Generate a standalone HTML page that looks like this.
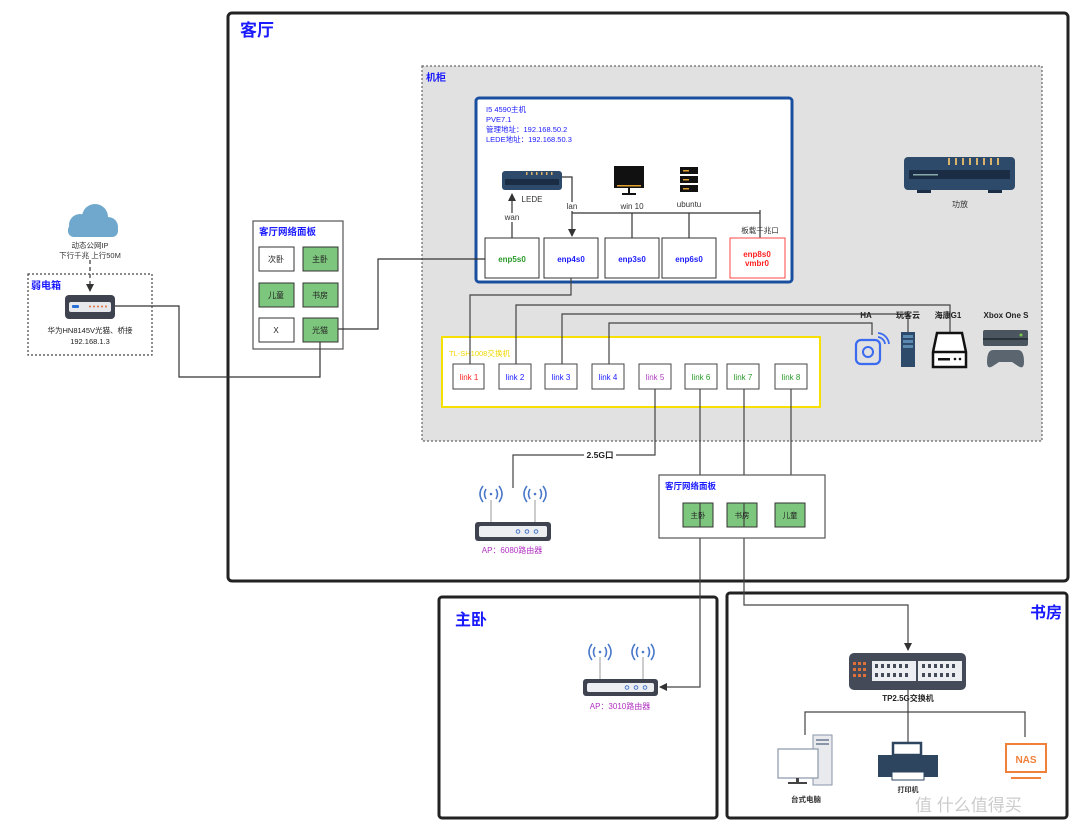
<!DOCTYPE html>
<html><head><meta charset="utf-8"><style>
html,body{margin:0;padding:0;background:#fff;}
svg{display:block;font-family:"Liberation Sans","Noto Sans CJK SC",sans-serif;}
</style></head><body>
<svg width="1080" height="833" viewBox="0 0 1080 833" xmlns="http://www.w3.org/2000/svg">
<defs>
<marker id="ar" markerWidth="8" markerHeight="8" refX="7" refY="4" orient="auto" markerUnits="userSpaceOnUse"><path d="M0,0 L8,4 L0,8 z" fill="#333"/></marker>
</defs>
<!-- outer rooms -->
<rect x="228" y="13" width="840" height="568" rx="4" fill="#fff" stroke="#222" stroke-width="3"/>
<rect x="439" y="597" width="278" height="221" rx="3" fill="#fff" stroke="#222" stroke-width="3"/>
<rect x="727" y="593" width="340" height="225" rx="3" fill="#fff" stroke="#222" stroke-width="3"/>
<text x="240" y="36" font-size="17" font-weight="bold" fill="#1a1aff">客厅</text>
<text x="455" y="625" font-size="16" font-weight="bold" fill="#1a1aff">主卧</text>
<text x="1030" y="618" font-size="16" font-weight="bold" fill="#1a1aff">书房</text>

<!-- cabinet -->
<rect x="422" y="66" width="620" height="375" fill="#e1e1e1" stroke="#666" stroke-width="1.2" stroke-dasharray="2,2"/>
<text x="426" y="81" font-size="10" font-weight="bold" fill="#1a1aff">机柜</text>

<!-- host -->
<rect x="476" y="98" width="316" height="184" rx="3" fill="#fff" stroke="#1a4fa0" stroke-width="3"/>
<g font-size="7.5" fill="#1a1aff">
<text x="486" y="112">I5 4590主机</text>
<text x="486" y="122">PVE7.1</text>
<text x="486" y="132">管理地址：192.168.50.2</text>
<text x="486" y="142">LEDE地址：192.168.50.3</text>
</g>
<!-- LEDE icon -->
<rect x="502" y="171" width="60" height="19" rx="3" fill="#2e4a6b"/>
<rect x="505" y="179" width="54" height="6" fill="#1a2d44"/>
<g fill="#d9b36a"><rect x="526" y="172" width="1.5" height="3"/><rect x="531" y="172" width="1.5" height="3"/><rect x="536" y="172" width="1.5" height="3"/><rect x="541" y="172" width="1.5" height="3"/><rect x="546" y="172" width="1.5" height="3"/><rect x="551" y="172" width="1.5" height="3"/></g>
<text x="532" y="202" font-size="8" fill="#333" text-anchor="middle">LEDE</text>
<line x1="512" y1="238" x2="512" y2="194" stroke="#333" stroke-width="1.2" marker-end="url(#ar)"/>
<rect x="503" y="213" width="18" height="9" fill="#fff"/>
<text x="512" y="220" font-size="8" fill="#333" text-anchor="middle">wan</text>
<polyline points="562,177 572,177 572,236" fill="none" stroke="#333" stroke-width="1.2" marker-end="url(#ar)"/>
<rect x="565" y="202" width="14" height="9" fill="#fff"/>
<text x="572" y="209" font-size="8" fill="#333" text-anchor="middle">lan</text>
<!-- win10 -->
<rect x="614" y="166" width="30" height="22" fill="#111"/>
<rect x="617" y="185" width="24" height="1.5" fill="#e0a030"/>
<rect x="628" y="188" width="2" height="5" fill="#111"/><rect x="622" y="193" width="14" height="2" fill="#111"/>
<text x="632" y="209" font-size="8" fill="#333" text-anchor="middle">win 10</text>
<!-- ubuntu -->
<rect x="680" y="167" width="18" height="7" fill="#111"/><rect x="680" y="176" width="18" height="7" fill="#111"/><rect x="680" y="185" width="18" height="7" fill="#111"/>
<rect x="683" y="170" width="6" height="1.5" fill="#e0a030"/><rect x="683" y="179" width="6" height="1.5" fill="#e0a030"/><rect x="683" y="188" width="6" height="1.5" fill="#e0a030"/>
<text x="689" y="207" font-size="8" fill="#333" text-anchor="middle">ubuntu</text>
<!-- bus -->
<polyline points="572,213 760,213" fill="none" stroke="#333" stroke-width="1.2"/>
<line x1="632" y1="213" x2="632" y2="238" stroke="#333" stroke-width="1.2"/>
<line x1="689" y1="213" x2="689" y2="238" stroke="#333" stroke-width="1.2"/>
<line x1="760" y1="210" x2="760" y2="238" stroke="#333" stroke-width="1.2"/>
<text x="760" y="233" font-size="7.5" fill="#333" text-anchor="middle">板载千兆口</text>
<!-- ports -->
<g stroke="#333" stroke-width="1" fill="#fff">
<rect x="485" y="238" width="54" height="40"/><rect x="544" y="238" width="54" height="40"/><rect x="605" y="238" width="54" height="40"/><rect x="662" y="238" width="54" height="40"/>
</g>
<rect x="730" y="238" width="55" height="40" fill="#fff" stroke="#f44" stroke-width="1"/>
<g font-size="8" text-anchor="middle" font-weight="bold">
<text x="512" y="262" fill="#2a9a2a">enp5s0</text>
<text x="571" y="262" fill="#1a1aff">enp4s0</text>
<text x="632" y="262" fill="#1a1aff">enp3s0</text>
<text x="689" y="262" fill="#1a1aff">enp6s0</text>
<text x="757" y="257" fill="#f22">enp8s0</text>
<text x="757" y="266" fill="#f22">vmbr0</text>
</g>

<!-- 功放 -->
<rect x="904" y="157" width="111" height="33" rx="4" fill="#2e4a6b"/>
<rect x="909" y="170" width="101" height="9" fill="#1a2d44"/>
<rect x="913" y="174" width="25" height="1.5" fill="#8aa"/>
<g fill="#d9b36a"><rect x="948" y="158" width="2" height="7"/><rect x="955" y="158" width="2" height="7"/><rect x="962" y="158" width="2" height="7"/><rect x="969" y="158" width="2" height="7"/><rect x="976" y="158" width="2" height="7"/><rect x="983" y="158" width="2" height="7"/><rect x="990" y="158" width="2" height="7"/><rect x="997" y="158" width="2" height="7"/></g>
<rect x="917" y="190" width="14" height="3" fill="#1a2d44"/><rect x="988" y="190" width="14" height="3" fill="#1a2d44"/>
<text x="960" y="207" font-size="8" fill="#333" text-anchor="middle">功放</text>

<!-- left panel -->
<rect x="253" y="221" width="90" height="128" fill="#fff" stroke="#555" stroke-width="1.2"/>
<text x="259" y="235" font-size="9.5" font-weight="bold" fill="#1a1aff">客厅网络面板</text>
<g stroke="#333" stroke-width="1">
<rect x="259" y="247" width="35" height="24" fill="#fff"/><rect x="303" y="247" width="35" height="24" fill="#7dc67d"/>
<rect x="259" y="283" width="35" height="24" fill="#7dc67d"/><rect x="303" y="283" width="35" height="24" fill="#7dc67d"/>
<rect x="259" y="318" width="35" height="24" fill="#fff"/><rect x="303" y="318" width="35" height="24" fill="#7dc67d"/>
</g>
<g font-size="8" text-anchor="middle" fill="#222">
<text x="276" y="262">次卧</text><text x="320" y="262">主卧</text>
<text x="276" y="298">儿童</text><text x="320" y="298">书房</text>
<text x="276" y="333">X</text><text x="320" y="333">光猫</text>
</g>
<polyline points="338,329 378,329 378,259 485,259" fill="none" stroke="#333" stroke-width="1.2"/>
<polyline points="320,342 320,377 179,377 179,306 115,306" fill="none" stroke="#333" stroke-width="1.2"/>

<!-- cloud -->
<g fill="#6fa8cc"><circle cx="80" cy="225" r="11"/><circle cx="95" cy="217" r="13"/><circle cx="108" cy="227" r="10"/><rect x="68" y="224" width="50" height="13" rx="6"/></g>
<text x="90" y="248" font-size="7.5" fill="#333" text-anchor="middle">动态公网IP</text>
<text x="90" y="258" font-size="7.5" fill="#333" text-anchor="middle">下行千兆  上行50M</text>
<line x1="90" y1="260" x2="90" y2="291" stroke="#333" stroke-width="1.2" stroke-dasharray="4,3" marker-end="url(#ar)"/>
<rect x="28" y="274" width="124" height="81" fill="none" stroke="#444" stroke-width="1.2" stroke-dasharray="2,2"/>
<text x="31" y="289" font-size="10" font-weight="bold" fill="#1a1aff">弱电箱</text>
<rect x="65" y="295" width="50" height="24" rx="4" fill="#3f4350"/>
<rect x="69" y="302" width="42" height="10" rx="2" fill="#e6e8ec"/>
<rect x="72" y="305" width="7" height="3" rx="1" fill="#2a6ed8"/>
<g fill="#e0703a"><circle cx="90" cy="306.5" r="1"/><circle cx="94" cy="306.5" r="1"/><circle cx="98" cy="306.5" r="1"/><circle cx="102" cy="306.5" r="1"/><circle cx="106" cy="306.5" r="1"/></g>
<text x="90" y="333" font-size="7.5" fill="#222" text-anchor="middle">华为HN8145V光猫、桥接</text>
<text x="90" y="344" font-size="7.5" fill="#222" text-anchor="middle">192.168.1.3</text>

<!-- TL switch -->
<rect x="442" y="337" width="378" height="70" fill="#fff" stroke="#f5e000" stroke-width="2"/>
<text x="449" y="356" font-size="7.5" fill="#f0d800">TL-SH1008交换机</text>
<g stroke="#444" stroke-width="1" fill="#fff">
<rect x="453" y="364" width="31" height="25"/><rect x="499" y="364" width="32" height="25"/><rect x="545" y="364" width="32" height="25"/><rect x="592" y="364" width="32" height="25"/><rect x="639" y="364" width="32" height="25"/><rect x="685" y="364" width="32" height="25"/><rect x="727" y="364" width="32" height="25"/><rect x="775" y="364" width="32" height="25"/>
</g>
<g font-size="8" text-anchor="middle">
<text x="469" y="380" fill="#f22">link 1</text>
<text x="515" y="380" fill="#1a1aff">link 2</text>
<text x="561" y="380" fill="#1a1aff">link 3</text>
<text x="608" y="380" fill="#1a1aff">link 4</text>
<text x="655" y="380" fill="#b040c0">link 5</text>
<text x="701" y="380" fill="#2a9a2a">link 6</text>
<text x="743" y="380" fill="#2a9a2a">link 7</text>
<text x="791" y="380" fill="#2a9a2a">link 8</text>
</g>
<g fill="none" stroke="#444" stroke-width="1.2">
<polyline points="571,278 571,295 470,295 470,364"/>
<polyline points="516,364 516,305 950,305 950,333"/>
<polyline points="562,364 562,314 908,314 908,333"/>
<polyline points="609,364 609,323 872,323 872,335"/>
<polyline points="655,389 655,455 513,455 513,488"/>
<polyline points="700,389 700,687 660,687" marker-end="url(#ar)"/>
<polyline points="744,389 744,605 908,605 908,650" marker-end="url(#ar)"/>
<polyline points="791,389 791,502"/>
</g>
<rect x="584" y="450" width="32" height="10" fill="#fff"/>
<text x="600" y="458" font-size="8.5" font-weight="bold" fill="#222" text-anchor="middle">2.5G口</text>

<!-- devices row -->
<g font-size="8" font-weight="bold" fill="#222" text-anchor="middle">
<text x="866" y="318">HA</text><text x="908" y="318">玩客云</text><text x="948" y="318">海康G1</text><text x="1006" y="318">Xbox One S</text>
</g>
<rect x="856" y="340" width="24" height="24" rx="5" fill="none" stroke="#3a6af0" stroke-width="2.2"/>
<circle cx="868" cy="352" r="5" fill="none" stroke="#3a6af0" stroke-width="2"/>
<path d="M878,337 a8,8 0 0 1 7,7 M878,333 a12,12 0 0 1 11,11" fill="none" stroke="#3a6af0" stroke-width="1.8"/>
<rect x="901" y="332" width="14" height="35" fill="#2e4a6b"/>
<rect x="903" y="335" width="10" height="3" fill="#5a8ab0"/><rect x="903" y="340" width="10" height="3" fill="#5a8ab0"/><rect x="903" y="345" width="10" height="3" fill="#5a8ab0"/>
<path d="M937,333 L962,333 L966,352 L966,367 L933,367 L933,352 Z" fill="#fff" stroke="#111" stroke-width="2.5"/>
<line x1="933" y1="352" x2="966" y2="352" stroke="#111" stroke-width="2.5"/>
<rect x="938" y="358" width="12" height="2.5" fill="#111"/><circle cx="955" cy="359" r="1.3" fill="#111"/><circle cx="960" cy="359" r="1.3" fill="#111"/>
<rect x="983" y="330" width="45" height="16" rx="2" fill="#4a5560"/>
<rect x="983" y="338" width="45" height="2" fill="#2a333a"/><circle cx="1021" cy="335" r="1.5" fill="#7c4"/>
<path d="M993,350 L1018,350 Q1024,350 1024,362 Q1024,370 1018,366 L1012,362 L999,362 L993,366 Q987,370 987,362 Q987,350 993,350 Z" fill="#5a6570"/>

<!-- AP 6080 -->
<line x1="491" y1="500" x2="491" y2="522" stroke="#bbb" stroke-width="1.5"/><line x1="535" y1="500" x2="535" y2="522" stroke="#bbb" stroke-width="1.5"/>
<g fill="none" stroke="#4a78c8" stroke-width="1.6">
<path d="M486,489 q-3,5 0,10 M483,486 q-6,8 0,16 M496,489 q3,5 0,10 M499,486 q6,8 0,16"/>
<path d="M530,489 q-3,5 0,10 M527,486 q-6,8 0,16 M540,489 q3,5 0,10 M543,486 q6,8 0,16"/>
</g>
<circle cx="491" cy="494" r="1.3" fill="#4a78c8"/><circle cx="535" cy="494" r="1.3" fill="#4a78c8"/>
<rect x="475" y="522" width="76" height="19" rx="3" fill="#3f4350"/>
<rect x="479" y="526" width="68" height="11" rx="2" fill="#eceef2"/>
<g fill="none" stroke="#4a78c8" stroke-width="1"><circle cx="518" cy="531.5" r="1.8"/><circle cx="527" cy="531.5" r="1.8"/><circle cx="536" cy="531.5" r="1.8"/></g>
<text x="512" y="553" font-size="8" fill="#b030c0" text-anchor="middle">AP：6080路由器</text>

<!-- right panel -->
<rect x="659" y="475" width="166" height="63" fill="#fff" stroke="#555" stroke-width="1.2"/>
<text x="665" y="489" font-size="8.5" font-weight="bold" fill="#1a1aff">客厅网络面板</text>
<g stroke="#333" stroke-width="1" fill="#7dc67d">
<rect x="683" y="503" width="30" height="24"/><rect x="727" y="503" width="30" height="24"/><rect x="775" y="503" width="30" height="24"/>
</g>
<line x1="700" y1="503" x2="700" y2="527" stroke="#444" stroke-width="1.2"/>
<line x1="744" y1="503" x2="744" y2="527" stroke="#444" stroke-width="1.2"/>
<g font-size="7.5" text-anchor="middle" fill="#222">
<text x="698" y="518">主卧</text><text x="742" y="518">书房</text><text x="790" y="518">儿童</text>
</g>

<!-- AP 3010 -->
<line x1="600" y1="657" x2="600" y2="680" stroke="#bbb" stroke-width="1.5"/><line x1="643" y1="657" x2="643" y2="680" stroke="#bbb" stroke-width="1.5"/>
<g fill="none" stroke="#4a78c8" stroke-width="1.6">
<path d="M595,647 q-3,5 0,10 M592,644 q-6,8 0,16 M605,647 q3,5 0,10 M608,644 q6,8 0,16"/>
<path d="M638,647 q-3,5 0,10 M635,644 q-6,8 0,16 M648,647 q3,5 0,10 M651,644 q6,8 0,16"/>
</g>
<circle cx="600" cy="652" r="1.3" fill="#4a78c8"/><circle cx="643" cy="652" r="1.3" fill="#4a78c8"/>
<rect x="583" y="679" width="75" height="17" rx="3" fill="#3f4350"/>
<rect x="587" y="683" width="67" height="9" rx="2" fill="#eceef2"/>
<g fill="none" stroke="#4a78c8" stroke-width="1"><circle cx="627" cy="687.5" r="1.8"/><circle cx="636" cy="687.5" r="1.8"/><circle cx="645" cy="687.5" r="1.8"/></g>
<text x="620" y="709" font-size="8" fill="#b030c0" text-anchor="middle">AP：3010路由器</text>

<!-- TP switch -->
<rect x="849" y="653" width="117" height="37" rx="5" fill="#444a58"/>
<rect x="872" y="661" width="44" height="20" fill="#eceef2"/><rect x="918" y="661" width="44" height="20" fill="#eceef2"/>
<g fill="#e0703a"><rect x="853" y="662" width="3" height="3"/><rect x="858" y="662" width="3" height="3"/><rect x="863" y="662" width="3" height="3"/><rect x="853" y="668" width="3" height="3"/><rect x="858" y="668" width="3" height="3"/><rect x="863" y="668" width="3" height="3"/><rect x="853" y="674" width="3" height="3"/><rect x="858" y="674" width="3" height="3"/><rect x="863" y="674" width="3" height="3"/></g>
<g fill="#444a58">
<rect x="875" y="664" width="3" height="4"/><rect x="881" y="664" width="3" height="4"/><rect x="887" y="664" width="3" height="4"/><rect x="893" y="664" width="3" height="4"/><rect x="899" y="664" width="3" height="4"/><rect x="905" y="664" width="3" height="4"/>
<rect x="875" y="673" width="3" height="4"/><rect x="881" y="673" width="3" height="4"/><rect x="887" y="673" width="3" height="4"/><rect x="893" y="673" width="3" height="4"/><rect x="899" y="673" width="3" height="4"/><rect x="905" y="673" width="3" height="4"/>
<rect x="922" y="664" width="3" height="4"/><rect x="928" y="664" width="3" height="4"/><rect x="934" y="664" width="3" height="4"/><rect x="940" y="664" width="3" height="4"/><rect x="946" y="664" width="3" height="4"/><rect x="952" y="664" width="3" height="4"/>
<rect x="922" y="673" width="3" height="4"/><rect x="928" y="673" width="3" height="4"/><rect x="934" y="673" width="3" height="4"/><rect x="940" y="673" width="3" height="4"/><rect x="946" y="673" width="3" height="4"/><rect x="952" y="673" width="3" height="4"/>
</g>
<text x="908" y="701" font-size="8" font-weight="bold" fill="#222" text-anchor="middle">TP2.5G交换机</text>
<g fill="none" stroke="#444" stroke-width="1.2">
<line x1="908" y1="690" x2="908" y2="745"/>
<polyline points="805,735 805,712 1025,712 1025,737"/>
</g>
<!-- PC -->
<rect x="813" y="735" width="19" height="50" fill="#e8eaee" stroke="#8a96a8" stroke-width="1"/>
<rect x="816" y="739" width="13" height="2" fill="#8a96a8"/><rect x="816" y="743" width="13" height="2" fill="#8a96a8"/>
<rect x="778" y="749" width="40" height="29" fill="#fff" stroke="#8a96a8" stroke-width="1.2"/>
<rect x="796" y="778" width="3" height="4" fill="#444"/><rect x="788" y="782" width="19" height="2" fill="#444"/>
<text x="806" y="802" font-size="7.5" font-weight="bold" fill="#333" text-anchor="middle">台式电脑</text>
<!-- printer -->
<rect x="893" y="743" width="28" height="12" fill="#fff" stroke="#2e4560" stroke-width="2.5"/>
<rect x="878" y="755" width="60" height="22" fill="#2e4560"/>
<rect x="892" y="772" width="32" height="8" fill="#fff" stroke="#2e4560" stroke-width="1"/>
<text x="908" y="792" font-size="7" font-weight="bold" fill="#333" text-anchor="middle">打印机</text>
<!-- NAS -->
<rect x="1006" y="744" width="40" height="28" fill="#fff" stroke="#f0803a" stroke-width="2"/>
<text x="1026" y="763" font-size="10" font-weight="bold" fill="#f0803a" text-anchor="middle">NAS</text>
<rect x="1011" y="777" width="30" height="2" fill="#f0803a"/>
<!-- watermark -->
<text x="915" y="811" font-size="17" fill="#ccc">值 什么值得买</text>
</svg>
</body></html>
